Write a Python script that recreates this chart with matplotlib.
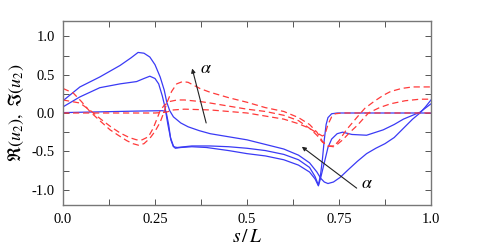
import matplotlib
matplotlib.use("Agg")
import matplotlib.pyplot as plt
from matplotlib.ticker import FixedLocator

plt.rcParams['font.family'] = ['Liberation Serif', 'DejaVu Serif']
plt.rcParams['mathtext.fontset'] = 'stix'
plt.rcParams['axes.unicode_minus'] = False

# Blue solid curves (three alpha values)
s_blue_a = [0, 0.046, 0.1, 0.155, 0.185, 0.204, 0.22, 0.236, 0.25, 0.264, 0.275, 0.282, 0.29, 0.30,
            0.32, 0.34, 0.37, 0.40, 0.45, 0.50, 0.55, 0.60, 0.64, 0.67, 0.69, 0.70, 0.71, 0.72, 0.735,
            0.753, 0.775, 0.80, 0.825, 0.85, 0.875, 0.90, 0.925, 0.95, 0.97, 0.985, 1.0]
y_blue_a = [0.16, 0.34, 0.47, 0.62, 0.72, 0.79, 0.78, 0.73, 0.63, 0.47, 0.30, 0.14, 0.03, -0.05,
            -0.13, -0.18, -0.23, -0.27, -0.31, -0.35, -0.41, -0.47, -0.55, -0.65, -0.77, -0.85, -0.90,
            -0.92, -0.90, -0.84, -0.74, -0.63, -0.53, -0.46, -0.40, -0.32, -0.20, -0.08, 0.0, 0.08, 0.17]

s_blue_b = [0, 0.046, 0.1, 0.155, 0.2, 0.22, 0.236, 0.25, 0.26, 0.27, 0.277, 0.285, 0.292, 0.30,
            0.305, 0.32, 0.35, 0.39, 0.45, 0.50, 0.55, 0.60, 0.64, 0.67, 0.685, 0.694, 0.70, 0.71,
            0.72, 0.73, 0.745, 0.76, 0.785, 0.825, 0.87, 0.90, 0.925, 0.95, 0.97, 1.0]
y_blue_b = [0.08, 0.21, 0.33, 0.38, 0.41, 0.45, 0.48, 0.45, 0.38, 0.22, 0.08, -0.15, -0.32, -0.43,
            -0.46, -0.45, -0.44, -0.45, -0.49, -0.53, -0.56, -0.61, -0.68, -0.77, -0.86, -0.95, -0.85,
            -0.65, -0.45, -0.34, -0.27, -0.25, -0.28, -0.29, -0.22, -0.15, -0.08, -0.03, 0.01, 0.12]

s_blue_c = [0, 0.1, 0.2, 0.27, 0.28, 0.287, 0.293, 0.30, 0.31, 0.35, 0.40, 0.45, 0.50, 0.55, 0.60,
            0.64, 0.67, 0.685, 0.694, 0.70, 0.705, 0.71, 0.715, 0.72, 0.73, 0.745, 0.80, 0.90, 1.0]
y_blue_c = [0.005, 0.015, 0.025, 0.03, 0.02, -0.15, -0.35, -0.44, -0.45, -0.43, -0.43, -0.44, -0.46,
            -0.49, -0.54, -0.61, -0.71, -0.83, -0.94, -0.80, -0.60, -0.35, -0.15, -0.06, -0.01, 0.0,
            0.0, 0.0, 0.0]

# Red dashed curves
s_red_a = [0, 0.028, 0.05, 0.073, 0.1, 0.128, 0.15, 0.173, 0.19, 0.205, 0.22, 0.236, 0.25, 0.264,
           0.275, 0.282, 0.295, 0.309, 0.325, 0.34, 0.372, 0.40, 0.45, 0.50, 0.55, 0.60, 0.64, 0.67,
           0.69, 0.705, 0.72, 0.735, 0.75, 0.77, 0.80, 0.82, 0.845, 0.87, 0.89, 0.92, 0.95, 1.0]
y_red_a = [0.32, 0.26, 0.15, 0.02, -0.10, -0.22, -0.29, -0.36, -0.40, -0.42, -0.40, -0.33, -0.24,
           -0.12, 0.02, 0.13, 0.28, 0.38, 0.41, 0.40, 0.32, 0.27, 0.20, 0.14, 0.07, 0.02, -0.06, -0.15,
           -0.25, -0.37, -0.43, -0.44, -0.36, -0.22, -0.05, 0.06, 0.15, 0.23, 0.28, 0.32, 0.34, 0.34]

s_red_b = [0, 0.046, 0.075, 0.1, 0.13, 0.155, 0.18, 0.20, 0.215, 0.232, 0.245, 0.255, 0.264, 0.275,
           0.29, 0.31, 0.33, 0.372, 0.40, 0.45, 0.50, 0.55, 0.60, 0.64, 0.67, 0.69, 0.705, 0.72, 0.74,
           0.76, 0.78, 0.80, 0.83, 0.86, 0.89, 0.93, 0.97, 1.0]
y_red_b = [0.17, 0.13, 0.03, -0.07, -0.18, -0.26, -0.32, -0.35, -0.35, -0.31, -0.20, -0.08, 0.03,
           0.10, 0.15, 0.17, 0.17, 0.15, 0.13, 0.09, 0.05, 0.02, -0.03, -0.10, -0.20, -0.29, -0.38,
           -0.43, -0.43, -0.35, -0.25, -0.16, 0.0, 0.07, 0.12, 0.16, 0.18, 0.18]

s_red_c = [0, 0.25, 0.28, 0.30, 0.33, 0.40, 0.50, 0.55, 0.60, 0.64, 0.67, 0.69, 0.705, 0.712, 0.72,
           0.73, 0.74, 0.76, 1.0]
y_red_c = [0.0, 0.0, 0.01, 0.04, 0.05, 0.04, 0.0, -0.04, -0.08, -0.14, -0.20, -0.26, -0.30, -0.28,
           -0.15, -0.05, -0.01, 0.0, 0.0]

x_major = [0.0, 0.25, 0.5, 0.75, 1.0]
x_labels = ["0.0", "0.25", "0.5", "0.75", "1.0"]
x_minor = [0.125, 0.375, 0.625, 0.875]
y_major = [-1.0, -0.5, 0.0, 0.5, 1.0]
y_labels = ["-1.0", "-0.5", "0.0", "0.5", "1.0"]
y_minor = [-0.75, -0.25, 0.25, 0.75]

fig = plt.figure(figsize=(4.94, 2.48), dpi=100)
ax = fig.add_axes([63/494, 43/248, 368/494, 184/248])

blue = '#3a3af5'
red = '#ff3a3a'
for s, y in [(s_blue_a, y_blue_a), (s_blue_b, y_blue_b), (s_blue_c, y_blue_c)]:
    ax.plot(s, y, color=blue, lw=0.9)
for s, y in [(s_red_a, y_red_a), (s_red_b, y_red_b), (s_red_c, y_red_c)]:
    ax.plot(s, y, color=red, lw=0.9, dashes=(5, 3))

ax.set_xlim(0, 1)
ax.set_ylim(-1.2, 1.2)
ax.xaxis.set_major_locator(FixedLocator(x_major))
ax.set_xticklabels(x_labels)
ax.xaxis.set_minor_locator(FixedLocator(x_minor))
ax.yaxis.set_major_locator(FixedLocator(y_major))
ax.set_yticklabels(y_labels)
ax.yaxis.set_minor_locator(FixedLocator(y_minor))
ax.tick_params(which='both', direction='in', top=True, right=True, length=4, width=0.7,
               color='#555555', labelsize=10.5, pad=6)
for sp in ax.spines.values():
    sp.set_color('#777777')
    sp.set_linewidth(1.0)

ax.set_xlabel(r'$s\,/\,L$', fontsize=14, labelpad=2)
ax.set_ylabel(r'$\Re(u_2),\ \Im(u_2)$', fontsize=13, labelpad=4)

arrow = dict(arrowstyle='-|>', lw=0.8, color='#222222', mutation_scale=6, shrinkA=0, shrinkB=0)
ax.annotate('', xy=(0.351, 0.58), xytext=(0.389, -0.13), arrowprops=arrow)
ax.text(0.372, 0.58, r'$\alpha$', fontsize=13, va='center', ha='left')
ax.annotate('', xy=(0.649, -0.44), xytext=(0.798, -0.98), arrowprops=arrow)
ax.text(0.81, -0.92, r'$\alpha$', fontsize=13, va='center', ha='left')

fig.savefig('out.png', dpi=100)
